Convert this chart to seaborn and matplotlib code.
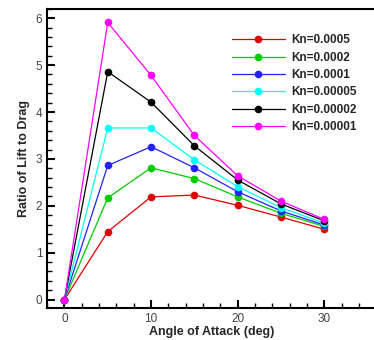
import pandas as pd
import matplotlib.pyplot as plt
import seaborn as sns
from matplotlib.ticker import MultipleLocator

angle = [0, 5, 10, 15, 20, 25, 30]
labels = ["Kn=0.0005", "Kn=0.0002", "Kn=0.0001", "Kn=0.00005", "Kn=0.00002", "Kn=0.00001"]
kn_0005 = [0, 1.45, 2.19, 2.23, 2.01, 1.76, 1.50]
kn_0002 = [0, 2.17, 2.81, 2.58, 2.19, 1.84, 1.56]
kn_0001 = [0, 2.86, 3.26, 2.81, 2.30, 1.89, 1.59]
kn_00005 = [0, 3.66, 3.66, 2.98, 2.41, 1.96, 1.63]
kn_00002 = [0, 4.86, 4.21, 3.28, 2.55, 2.04, 1.68]
kn_00001 = [0, 5.91, 4.78, 3.50, 2.64, 2.10, 1.71]
colors = ["#dd0000", "#00cc00", "#2222ff", "#00ffff", "#000000", "#ff00ff"]

series = [kn_0005, kn_0002, kn_0001, kn_00005, kn_00002, kn_00001]
df = pd.concat([pd.DataFrame({"angle": angle, "ratio": s, "Kn": lab})
                for s, lab in zip(series, labels)])

sns.set_style("white")
plt.rcParams['font.family'] = ['Liberation Sans', 'DejaVu Sans']

fig = plt.figure(figsize=(3.74, 3.4), dpi=100)
ax = fig.add_axes([0.126, 0.094, 0.88, 0.88])

sns.lineplot(data=df, x="angle", y="ratio", hue="Kn", hue_order=labels,
             palette=colors, marker="o", markersize=5.5, markeredgewidth=0,
             linewidth=0.9, ax=ax)

# axes run past the right edge of the picture, as in the original
ax.set_xlim(-2, 36.0)
ax.set_ylim(-0.18, 6.2)
ax.xaxis.set_major_locator(MultipleLocator(10))
ax.xaxis.set_minor_locator(MultipleLocator(2))
ax.yaxis.set_major_locator(MultipleLocator(1))
ax.yaxis.set_minor_locator(MultipleLocator(0.2))
ax.tick_params(which="both", direction="in", bottom=True, left=True, top=False, right=False,
               colors="black", labelcolor="#444444", labelsize=8.5, width=1)
ax.tick_params(which="major", length=5.5, width=1.5)
ax.tick_params(which="minor", length=3.5)
for sp in ax.spines.values():
    sp.set_linewidth(1.5)
    sp.set_color("black")

ax.set_xlabel("Angle of Attack (deg)", fontsize=9, fontweight="bold", labelpad=1)
ax.set_ylabel("Ratio of Lift to Drag", fontsize=9, fontweight="bold", labelpad=4)

leg = ax.legend(loc="upper left", bbox_to_anchor=(0.528, 0.95), frameon=False,
                handlelength=4.5, labelspacing=0.45, handletextpad=0.6,
                prop={"size": 8.5, "weight": "bold"})

plt.savefig("out.png", dpi=100)
